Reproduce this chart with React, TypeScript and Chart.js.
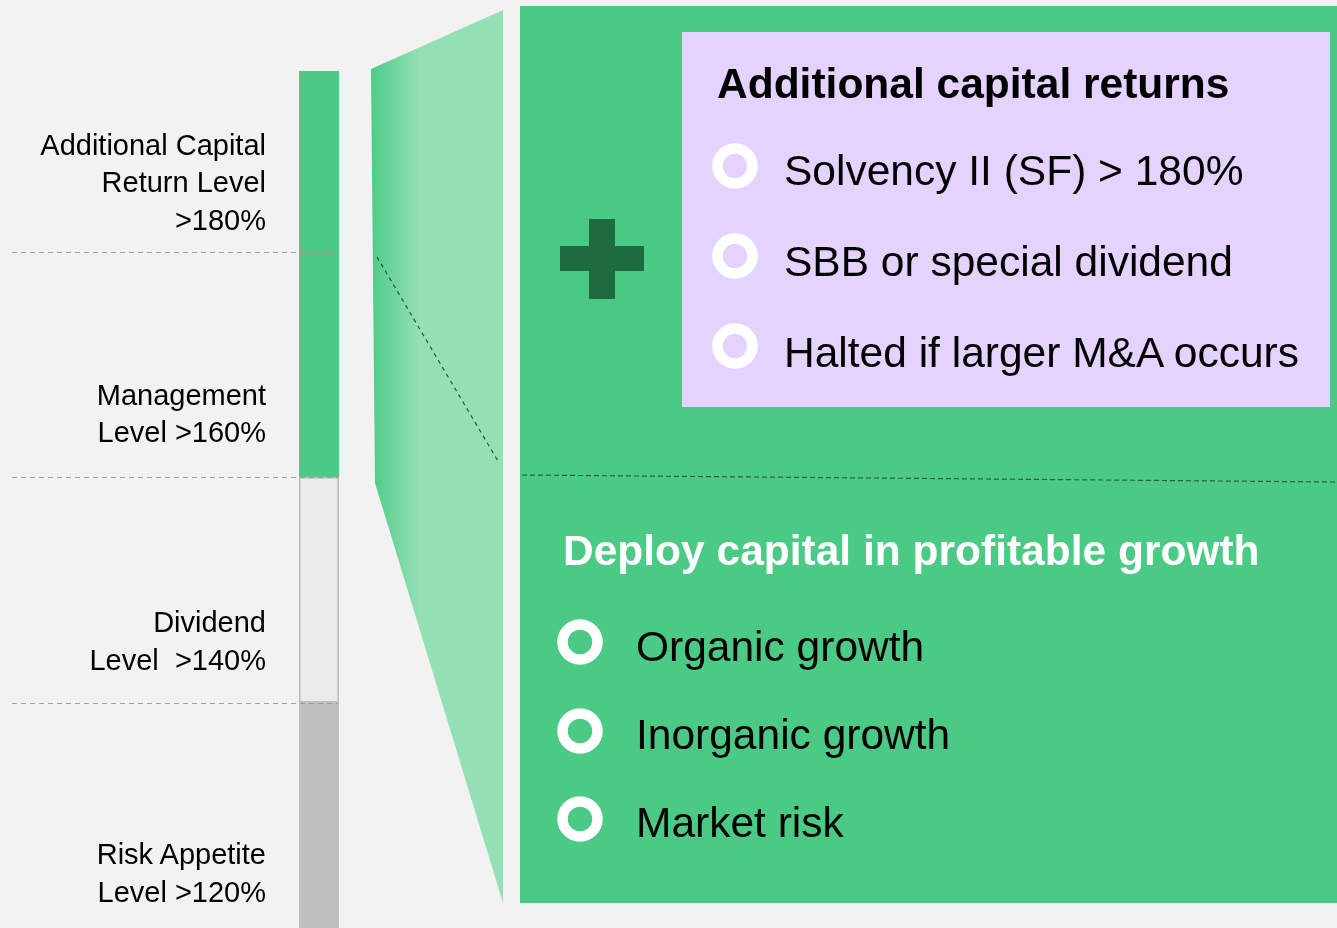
import React, { useEffect, useRef } from "react";
import { Chart, registerables } from "chart.js";

Chart.register(...registerables);

// ---- data ----
const levelNames = ["Risk Appetite", "Dividend", "Management / Additional"];
const bandStart = [100, 120, 140];
const bandEnd = [120, 140, 176];
const thresholds = [120, 140, 160];
const scaleMin = 100;
const scaleMax = 182.34;

const levelLabels: string[][] = [
  ["Additional Capital", "Return Level", ">180%"],
  ["Management", "Level >160%"],
  ["Dividend", "Level  >140%"],
  ["Risk Appetite", "Level >120%"],
];
const returnsTitle = "Additional capital returns";
const returnItems = ["Solvency II (SF) > 180%", "SBB or special dividend", "Halted if larger M&A occurs"];
const growthTitle = "Deploy capital in profitable growth";
const growthItems = ["Organic growth", "Inorganic growth", "Market risk"];

// ---- style ----
const W = 1337;
const H = 928;
const BG = "#F2F2F2";
const GREEN = "#4BCA86";
const LIGHT_GREEN = "#94E0B5";
const PURPLE = "#E5D3FF";
const DARK_GREEN = "#1F6B40";
const FONT = '"Liberation Sans", Arial, Helvetica, sans-serif';

const labelBaselines = [[155.5, 193, 230.5], [405.5, 442.5], [632.5, 670.5], [864.5, 902.5]];
const returnBaselines = [186, 277, 368];
const returnRingY = [166, 256, 346];
const growthBaselines = [662, 750, 838];
const growthRingY = [642, 731, 819];

const decorPlugin = {
  id: "decor",
  beforeDatasetsDraw(chart: any) {
    const ctx = chart.ctx as CanvasRenderingContext2D;
    ctx.save();
    // trapezoid with gradient
    const grad = ctx.createLinearGradient(371, 0, 420, 0);
    grad.addColorStop(0, "#4ECB88");
    grad.addColorStop(1, LIGHT_GREEN);
    ctx.fillStyle = grad;
    ctx.beginPath();
    ctx.moveTo(371, 69);
    ctx.lineTo(503, 10);
    ctx.lineTo(503, 903);
    ctx.lineTo(375, 483);
    ctx.closePath();
    ctx.fill();
    // diagonal dashed line
    ctx.setLineDash([4, 4]);
    ctx.strokeStyle = "rgba(45,45,45,0.85)";
    ctx.lineWidth = 1.2;
    ctx.beginPath();
    ctx.moveTo(377, 257);
    ctx.lineTo(498, 461);
    ctx.stroke();
    ctx.setLineDash([]);
    // big green panel
    ctx.fillStyle = GREEN;
    ctx.fillRect(520, 6, W - 520, 897);
    // purple box
    ctx.fillStyle = PURPLE;
    ctx.fillRect(682, 32, 648, 375);
    // plus sign
    ctx.fillStyle = DARK_GREEN;
    ctx.fillRect(589, 219, 26, 80);
    ctx.fillRect(560, 246, 84, 25);
    // separator dashed line in panel
    ctx.setLineDash([5, 3]);
    ctx.strokeStyle = "rgba(50,50,50,0.75)";
    ctx.lineWidth = 1.2;
    ctx.beginPath();
    ctx.moveTo(522, 475);
    ctx.lineTo(W, 482);
    ctx.stroke();
    ctx.setLineDash([]);
    // rings
    ctx.strokeStyle = "#FFFFFF";
    ctx.lineWidth = 10.5;
    returnRingY.forEach((y) => {
      ctx.beginPath();
      ctx.arc(735, y, 17.5, 0, Math.PI * 2);
      ctx.stroke();
    });
    growthRingY.forEach((y) => {
      ctx.beginPath();
      ctx.arc(580, y, 17.5, 0, Math.PI * 2);
      ctx.stroke();
    });
    ctx.restore();
  },
  afterDatasetsDraw(chart: any) {
    const ctx = chart.ctx as CanvasRenderingContext2D;
    const yScale = chart.scales.y;
    ctx.save();
    ctx.setLineDash([5, 4]);
    ctx.strokeStyle = "#9E9E9E";
    ctx.lineWidth = 1.1;
    thresholds.forEach((t) => {
      const y = Math.round(yScale.getPixelForValue(t)) + 0.5;
      ctx.beginPath();
      ctx.moveTo(12, y);
      ctx.lineTo(338, y);
      ctx.stroke();
    });
    ctx.restore();
  },
};

function Txt(props: { x: number; y: number; text: string; size: number; bold?: boolean; color?: string; right?: boolean }) {
  const { x, y, text, size, bold, color, right } = props;
  const style: React.CSSProperties = {
    position: "absolute",
    top: y - 0.8465 * size,
    fontSize: size,
    lineHeight: `${size}px`,
    fontFamily: FONT,
    fontWeight: bold ? 700 : 400,
    color: color || "#000",
    whiteSpace: "pre",
  };
  if (right) style.right = W - x;
  else style.left = x;
  return <div style={style}>{text}</div>;
}

export default function App() {
  const ref = useRef<HTMLCanvasElement>(null);
  useEffect(() => {
    if (!ref.current) return;
    const colors = ["#BFBFBF", "#EBEBEB", GREEN];
    const chart = new Chart(ref.current, {
      type: "bar",
      data: {
        labels: ["Solvency ratio"],
        datasets: bandStart.map((s, i) => ({
          label: levelNames[i],
          data: [[s, bandEnd[i]]] as any,
          backgroundColor: colors[i],
          borderColor: i === 1 ? "#BFBFBF" : colors[i],
          borderWidth: i === 1 ? 2 : 0,
          borderSkipped: false,
          grouped: false,
          barPercentage: 1,
          categoryPercentage: 1,
        })),
      },
      options: {
        responsive: false,
        devicePixelRatio: 1,
        animation: false,
        layout: { padding: { left: 299, right: W - 339, top: 0, bottom: 0 } },
        scales: {
          x: { display: false },
          y: { display: false, min: scaleMin, max: scaleMax },
        },
        plugins: { legend: { display: false }, tooltip: { enabled: false } },
      },
      plugins: [decorPlugin],
    });
    return () => chart.destroy();
  }, []);

  return (
    <div style={{ position: "absolute", left: 0, top: 0, width: W, height: H, background: BG, overflow: "hidden" }}>
      <canvas ref={ref} width={W} height={H} style={{ position: "absolute", left: 0, top: 0, width: W, height: H }} />
      {levelLabels.map((lines, i) =>
        lines.map((t, j) => <Txt key={`l${i}-${j}`} x={266} y={labelBaselines[i][j]} text={t} size={29} right />)
      )}
      <Txt x={717} y={98.5} text={returnsTitle} size={42.5} bold />
      {returnItems.map((t, i) => (
        <Txt key={`r${i}`} x={784} y={returnBaselines[i]} text={t} size={42.5} />
      ))}
      <Txt x={563} y={565.5} text={growthTitle} size={42.5} bold color="#FFFFFF" />
      {growthItems.map((t, i) => (
        <Txt key={`g${i}`} x={636} y={growthBaselines[i]} text={t} size={42.5} />
      ))}
    </div>
  );
}
